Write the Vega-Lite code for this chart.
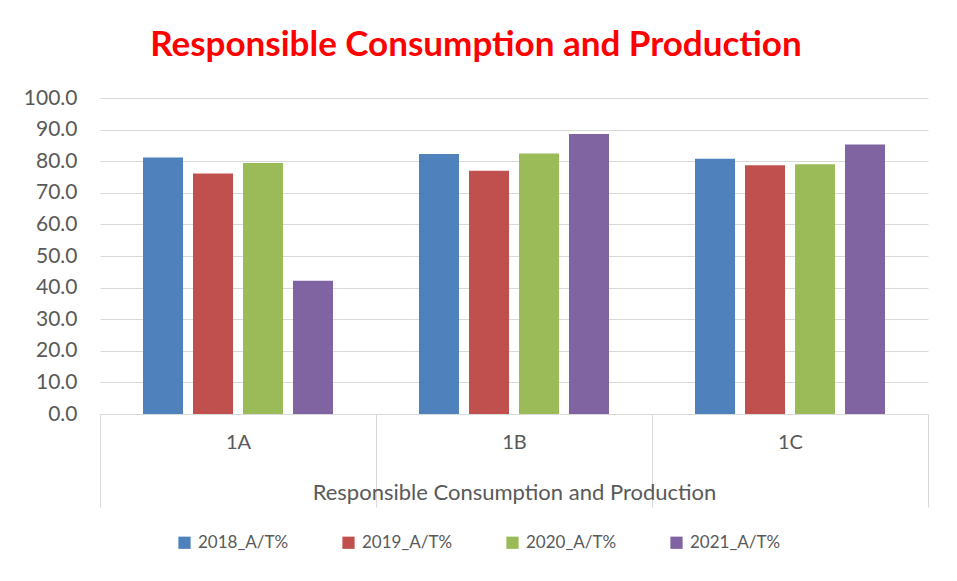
{
  "$schema": "https://vega.github.io/schema/vega-lite/v6.json",
  "width": 828,
  "height": 316,
  "autosize": "none",
  "padding": {"left": 100, "top": 98, "right": 29, "bottom": 167},
  "background": "white",
  "title": {
    "text": "Responsible Consumption and Production",
    "color": "#ff0000",
    "font": "Lato",
    "fontSize": 35,
    "fontWeight": "bold",
    "anchor": "middle",
    "frame": "bounds",
    "offset": 24
  },
  "data": {
    "values": [
      {"cat": "1A", "series": "2018_A/T%", "value": 81.2},
      {"cat": "1A", "series": "2019_A/T%", "value": 76.1},
      {"cat": "1A", "series": "2020_A/T%", "value": 79.4},
      {"cat": "1A", "series": "2021_A/T%", "value": 42.2},
      {"cat": "1B", "series": "2018_A/T%", "value": 82.3},
      {"cat": "1B", "series": "2019_A/T%", "value": 77.0},
      {"cat": "1B", "series": "2020_A/T%", "value": 82.4},
      {"cat": "1B", "series": "2021_A/T%", "value": 88.6},
      {"cat": "1C", "series": "2018_A/T%", "value": 80.8},
      {"cat": "1C", "series": "2019_A/T%", "value": 78.7},
      {"cat": "1C", "series": "2020_A/T%", "value": 79.0},
      {"cat": "1C", "series": "2021_A/T%", "value": 85.3}
    ]
  },
  "mark": {"type": "bar"},
  "encoding": {
    "x": {
      "field": "cat",
      "type": "nominal",
      "scale": {"paddingInner": 0, "paddingOuter": 0},
      "axis": {
        "title": "Responsible Consumption and Production",
        "labelAngle": 0,
        "labelFont": "Lato",
        "labelFontSize": 20,
        "labelColor": "#595959",
        "labelPadding": -65,
        "labelBaseline": "middle",
        "titleFont": "Lato",
        "titleFontSize": 22,
        "titleFontWeight": "normal",
        "titleColor": "#595959",
        "titleY": 78,
        "titleBaseline": "middle",
        "domainColor": "#d9d9d9",
        "tickColor": "#d9d9d9",
        "tickBand": "extent",
        "tickSize": 93,
        "tickWidth": 1,
        "ticks": true,
        "grid": false
      }
    },
    "xOffset": {
      "field": "series",
      "type": "nominal",
      "scale": {"paddingInner": 0.2, "paddingOuter": 0.86}
    },
    "y": {
      "field": "value",
      "type": "quantitative",
      "scale": {"domain": [0, 100], "nice": false},
      "axis": {
        "title": null,
        "values": [0, 10, 20, 30, 40, 50, 60, 70, 80, 90, 100],
        "format": ".1f",
        "labelFont": "Lato",
        "labelFontSize": 21,
        "labelColor": "#595959",
        "labelPadding": 23,
        "domain": false,
        "ticks": false,
        "gridColor": "#d9d9d9",
        "gridWidth": 1
      }
    },
    "color": {
      "field": "series",
      "type": "nominal",
      "scale": {
        "domain": ["2018_A/T%", "2019_A/T%", "2020_A/T%", "2021_A/T%"],
        "range": ["#4f81bd", "#c0504d", "#9bbb59", "#8064a2"]
      },
      "legend": {
        "title": null,
        "orient": "none",
        "direction": "horizontal",
        "legendX": 76,
        "legendY": 436,
        "symbolType": "square",
        "symbolSize": 150,
        "symbolStrokeWidth": 0,
        "labelFont": "Lato",
        "labelFontSize": 17,
        "labelColor": "#595959",
        "columnPadding": 51,
        "labelOffset": 5
      }
    }
  },
  "config": {
    "view": {"stroke": null}
  }
}
